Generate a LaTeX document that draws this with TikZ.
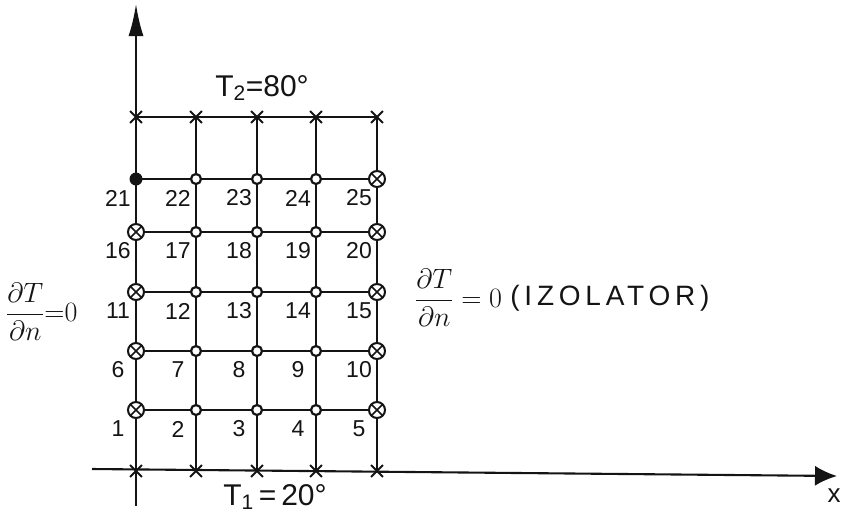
\RequirePackage{fix-cm}
\documentclass[tikz,border=0pt]{standalone}
\usepackage{fontspec}
\setmainfont{Liberation Sans}
\usepackage{tikz}
\usetikzlibrary{arrows.meta, shapes.misc}
\definecolor{pencil}{HTML}{141414}

\begin{document}
\begin{tikzpicture}[x=1pt, y=-1pt,
  gridline/.style={pencil, line width=1.7pt},
  axisline/.style={pencil, line width=2.1pt},
  numlbl/.style={font=\fontsize{23}{27}\selectfont, text=pencil, inner sep=0pt},
  ring/.style={circle, draw=pencil, line width=2.2pt, fill=white, minimum size=10pt, inner sep=0pt},
  otimes/.style={circle, draw=pencil, line width=2pt, fill=white, minimum size=16pt, inner sep=0pt,
    path picture={\draw[pencil, line width=1.5pt]
      (path picture bounding box.north west) -- (path picture bounding box.south east)
      (path picture bounding box.north east) -- (path picture bounding box.south west);}},
  dotmark/.style={circle, fill=pencil, minimum size=13pt, inner sep=0pt},
  xmark/.style={cross out, draw=pencil, line width=1.8pt, minimum size=10pt, inner sep=0pt}]
\useasboundingbox (0,0) rectangle (845,520);
% axes
\coordinate (ybot) at (136,506);
\coordinate (ytop) at (136,4);
\coordinate (xl) at (92,469);
\coordinate (xr) at (837,476);
\draw[axisline, -{Latex[length=32pt, width=15pt]}] (ybot) -- (ytop);
\draw[axisline, -{Latex[length=22pt, width=20pt]}] (xl) -- (xr);
% grid points and their numbers
\foreach \c/\x in {1/136,2/196,3/257,4/316,5/377} {
  \coordinate (t\c) at (\x,117);
  \coordinate (b\c) at (\x,471);
}
\foreach \r/\y in {0/410,1/351,2/292,3/232,4/179}
  \foreach \c/\x in {1/136,2/196,3/257,4/316,5/377} {
    \pgfmathtruncatemacro\k{5*\r+\c}
    \coordinate (n\k) at (\x,\y);
    \node[numlbl] (l\k) at (\x-18,\y+19) {\k};
  }
\foreach \c in {2,...,5} \draw[gridline] (b\c) -- (t\c);
\draw[gridline] (t1) -- (t5);
\foreach \r in {1,6,11,16,21} {
  \pgfmathtruncatemacro\e{\r+4}
  \draw[gridline] (n\r) -- (n\e);
}
% markers
\foreach \c in {1,...,5} {
  \node[xmark] (tx\c) at (t\c) {};
  \node[xmark] (bx\c) at (b\c) {};
}
\foreach \k in {2,3,4,7,8,9,12,13,14,17,18,19,22,23,24} \node[ring] (m\k) at (n\k) {};
\foreach \k in {1,5,6,10,11,15,16,20,25} \node[otimes] (m\k) at (n\k) {};
\node[dotmark] (m21) at (n21) {};
% boundary conditions
\node[font=\fontsize{30}{34}\selectfont, text=pencil] (ttop) at (262,88) {T\textsubscript{2}=80°};
\node[font=\fontsize{30}{34}\selectfont, text=pencil] (tbot) at (275,497) {T\textsubscript{1}\,=\,20°};
\node[font=\fontsize{28}{32}\selectfont, text=pencil, anchor=west, inner sep=0pt]
  (leftbc) at (6,312) {$\displaystyle\frac{\partial T}{\partial n}{=}0$};
\node[font=\fontsize{28}{32}\selectfont, text=pencil, anchor=west, inner sep=0pt]
  (rightbc) at (415,298) {$\displaystyle\frac{\partial T}{\partial n}=0$};
\node[font=\fontsize{28}{32}\selectfont\addfontfeature{LetterSpace=17}, text=pencil, anchor=west, inner sep=0pt]
  (izol) at ([xshift=8pt]rightbc.east) {(IZOLATOR)};
\node[font=\fontsize{26}{30}\selectfont, text=pencil] (xlbl) at (834,496) {x};
\end{tikzpicture}
\end{document}
